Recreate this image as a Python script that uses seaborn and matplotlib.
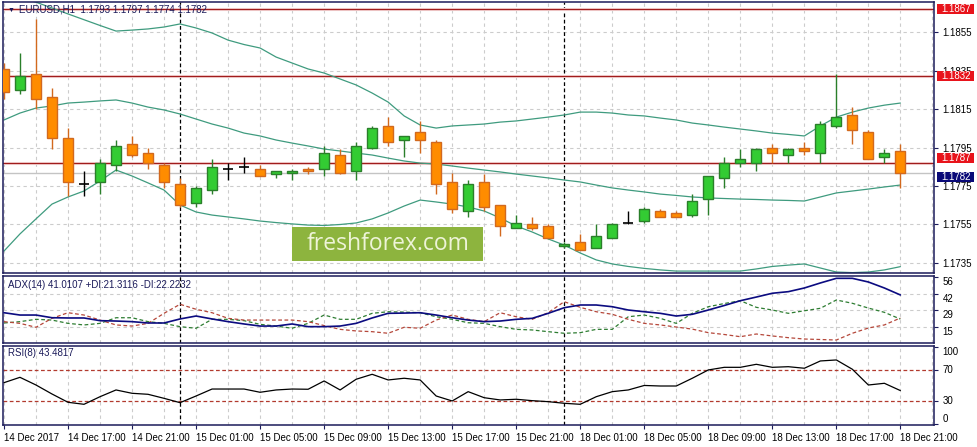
import numpy as np
import matplotlib
matplotlib.use("Agg")
import matplotlib.pyplot as plt
import matplotlib.transforms as mtransforms
from matplotlib.patches import Rectangle
import seaborn as sns

# ---------------- data ----------------
opens = [1.1836, 1.1825, 1.1833, 1.1821, 1.1800, 1.1776, 1.1777, 1.1786, 1.1797, 1.1792,
         1.1786, 1.1776, 1.1766, 1.1773, 1.1784, 1.1785, 1.1784, 1.1781, 1.1782, 1.1784,
         1.1784, 1.1791, 1.1783, 1.1795, 1.1806, 1.1799, 1.1803, 1.1798, 1.1777, 1.1762,
         1.1777, 1.1765, 1.1753, 1.1755, 1.1754, 1.1744, 1.1746, 1.1743, 1.1748, 1.1756,
         1.1757, 1.1762, 1.1761, 1.1760, 1.1768, 1.1779, 1.1787, 1.1787, 1.1795, 1.1791,
         1.1795, 1.1792, 1.1806, 1.1812, 1.1803, 1.1790, 1.1793]
highs = [1.1839, 1.1844, 1.1862, 1.1826, 1.1805, 1.1783, 1.1789, 1.1799, 1.1801, 1.1795,
         1.1787, 1.1779, 1.1775, 1.1789, 1.1787, 1.1790, 1.1786, 1.1783, 1.1784, 1.1785,
         1.1796, 1.1794, 1.1798, 1.1806, 1.1811, 1.1801, 1.1809, 1.1799, 1.1782, 1.1778,
         1.1781, 1.1765, 1.1760, 1.1759, 1.1755, 1.1746, 1.1750, 1.1755, 1.1756, 1.1762,
         1.1764, 1.1763, 1.1762, 1.1771, 1.1780, 1.1790, 1.1794, 1.1795, 1.1797, 1.1795,
         1.1798, 1.1809, 1.1833, 1.1816, 1.1804, 1.1794, 1.1797]
lows = [1.1820, 1.1823, 1.1815, 1.1794, 1.1770, 1.1770, 1.1771, 1.1783, 1.1790, 1.1784,
        1.1774, 1.1764, 1.1764, 1.1771, 1.1778, 1.1782, 1.1780, 1.1779, 1.1778, 1.1781,
        1.1780, 1.1781, 1.1778, 1.1794, 1.1796, 1.1790, 1.1792, 1.1771, 1.1761, 1.1759,
        1.1762, 1.1749, 1.1753, 1.1752, 1.1748, 1.1743, 1.1742, 1.1743, 1.1748, 1.1755,
        1.1756, 1.1759, 1.1759, 1.1759, 1.1760, 1.1774, 1.1785, 1.1783, 1.1787, 1.1787,
        1.1791, 1.1787, 1.1805, 1.1797, 1.1789, 1.1787, 1.1774]
closes = [1.1824, 1.1832, 1.1820, 1.1800, 1.1777, 1.1776, 1.1787, 1.1796, 1.1791, 1.1787,
          1.1777, 1.1765, 1.1774, 1.1785, 1.1784, 1.1785, 1.1780, 1.1783, 1.1783, 1.1783,
          1.1792, 1.1782, 1.1796, 1.1805, 1.1798, 1.1801, 1.1799, 1.1776, 1.1763, 1.1776,
          1.1764, 1.1754, 1.1756, 1.1753, 1.1748, 1.1745, 1.1742, 1.1749, 1.1755, 1.1756,
          1.1763, 1.1759, 1.1759, 1.1767, 1.1780, 1.1787, 1.1789, 1.1794, 1.1792, 1.1794,
          1.1793, 1.1807, 1.1811, 1.1804, 1.1789, 1.1792, 1.1782]

bb_upper = [1.18760, 1.18730, 1.18705, 1.18675, 1.18644, 1.18614, 1.18584, 1.18555, 1.18560, 1.18566,
            1.18576, 1.18592, 1.18571, 1.18545, 1.18508, 1.18485, 1.18467, 1.18420, 1.18389, 1.18358,
            1.18337, 1.18306, 1.18275, 1.18233, 1.18186, 1.18114, 1.18067, 1.18051, 1.18062, 1.18067,
            1.18072, 1.18082, 1.18088, 1.18098, 1.18108, 1.18119, 1.18134, 1.18134, 1.18129, 1.18119,
            1.18114, 1.18103, 1.18093, 1.18077, 1.18067, 1.18056, 1.18046, 1.18036, 1.18025, 1.18018,
            1.18010, 1.18062, 1.18108, 1.18134, 1.18155, 1.18170, 1.18181]
bb_mid = [1.18093, 1.18129, 1.18155, 1.18166, 1.18181, 1.18186, 1.18192, 1.18197, 1.18181, 1.18160,
          1.18145, 1.18124, 1.18098, 1.18072, 1.18051, 1.18025, 1.18010, 1.17989, 1.17973, 1.17958,
          1.17942, 1.17932, 1.17921, 1.17911, 1.17895, 1.17880, 1.17869, 1.17864, 1.17854, 1.17843,
          1.17833, 1.17823, 1.17812, 1.17802, 1.17792, 1.17781, 1.17771, 1.17755, 1.17740, 1.17729,
          1.17719, 1.17708, 1.17701, 1.17693, 1.17688, 1.17685, 1.17682, 1.17680, 1.17677, 1.17675,
          1.17672, 1.17693, 1.17714, 1.17724, 1.17734, 1.17745, 1.17755]
bb_lower = [1.17412, 1.17501, 1.17579, 1.17656, 1.17693, 1.17724, 1.17776, 1.17833, 1.17802, 1.17766,
            1.17729, 1.17651, 1.17615, 1.17599, 1.17589, 1.17579, 1.17568, 1.17560, 1.17553, 1.17547,
            1.17545, 1.17550, 1.17558, 1.17579, 1.17610, 1.17646, 1.17677, 1.17667, 1.17656, 1.17641,
            1.17620, 1.17584, 1.17542, 1.17511, 1.17475, 1.17443, 1.17402, 1.17366, 1.17345, 1.17332,
            1.17322, 1.17314, 1.17308, 1.17308, 1.17308, 1.17308, 1.17308, 1.17319, 1.17332, 1.17339,
            1.17345, 1.17324, 1.17303, 1.17300, 1.17303, 1.17314, 1.17331]

adx = [26.5, 24.6, 24.6, 22.4, 22.2, 22.2, 20.0, 19.7, 19.2, 18.1,
       18.1, 21.4, 23.8, 21.4, 19.2, 17.3, 15.6, 15.6, 17.3, 15.1,
       15.1, 15.6, 17.8, 22.2, 26.0, 26.2, 26.5, 24.6, 22.4, 20.5,
       19.2, 19.7, 21.1, 21.9, 26.0, 30.6, 32.8, 32.8, 31.4, 28.7,
       27.3, 26.0, 23.8, 25.2, 28.7, 32.4, 36.3, 39.3, 42.4, 43.7,
       46.7, 50.8, 54.6, 54.6, 51.6, 46.7, 41.0]
plus_di = [18.1, 19.2, 21.1, 20.5, 17.8, 16.5, 17.8, 22.4, 22.4, 19.2,
           17.8, 15.1, 13.8, 21.1, 21.1, 20.0, 17.0, 15.6, 13.8, 17.8,
           24.6, 21.1, 21.1, 26.0, 27.3, 27.0, 26.5, 23.2, 21.1, 18.3,
           17.8, 15.1, 12.9, 12.4, 11.0, 9.7, 10.2, 12.9, 12.9, 23.2,
           24.6, 21.9, 17.8, 26.0, 31.4, 34.0, 36.3, 30.9, 28.7, 26.0,
           28.1, 30.1, 36.9, 34.2, 30.3, 26.8, 21.3]
minus_di = [19.2, 17.8, 14.6, 21.9, 26.5, 24.6, 20.5, 16.5, 15.6, 17.8,
            26.0, 33.4, 29.3, 26.5, 21.9, 20.5, 20.5, 20.5, 20.5, 19.2,
            16.0, 12.9, 11.6, 11.0, 9.7, 14.6, 13.8, 20.5, 24.6, 21.1,
            19.2, 26.5, 23.2, 21.1, 26.5, 35.5, 30.9, 27.3, 25.2, 21.1,
            17.8, 16.5, 14.8, 13.1, 10.2, 8.7, 6.9, 9.1, 7.5, 6.1,
            5.0, 4.6, 4.2, 9.7, 14.0, 16.5, 22.2]
rsi = [53.7, 60.6, 50.7, 39.1, 28.4, 25.8, 35.6, 44.3, 40.0, 38.7,
       33.5, 27.9, 36.5, 45.5, 45.5, 45.5, 41.3, 44.3, 45.5, 45.2,
       55.9, 44.3, 58.1, 64.5, 57.2, 59.4, 57.2, 36.5, 30.1, 42.1,
       34.3, 31.4, 32.3, 30.5, 29.2, 27.1, 25.8, 35.6, 42.1, 44.3,
       50.1, 49.4, 49.4, 59.4, 70.1, 73.5, 73.5, 77.4, 73.5, 74.3,
       72.3, 81.7, 83.0, 71.0, 50.7, 52.9, 43.5]

time_tick_idx = [0, 4, 8, 12, 16, 20, 24, 28, 32, 36, 40, 44, 48, 52, 56]
time_labels = ["14 Dec 2017", "14 Dec 17:00", "14 Dec 21:00", "15 Dec 01:00", "15 Dec 05:00",
               "15 Dec 09:00", "15 Dec 13:00", "15 Dec 17:00", "15 Dec 21:00", "18 Dec 01:00",
               "18 Dec 05:00", "18 Dec 09:00", "18 Dec 13:00", "18 Dec 17:00", "18 Dec 21:00"]
day_separators = [11, 35]
price_ticks = [1.1855, 1.1835, 1.1815, 1.1795, 1.1775, 1.1755, 1.1735]
level_lines = [1.1867, 1.1832, 1.1787]
bid_price = 1.1782
adx_ticks = [56, 42, 29, 15]
rsi_ticks = [100, 70, 30, 0]
rsi_levels = [70, 30]

header = "EURUSD,H1  1.1793 1.1797 1.1774 1.1782"
adx_label = "ADX(14) 41.0107 +DI:21.3116 -DI:22.2232"
rsi_label = "RSI(8) 43.4817"

# ---------------- style ----------------
sns.set_theme(style="white")
plt.rcParams['font.family'] = ['Liberation Sans', 'DejaVu Sans']
FS = 7
NAVY = '#1b1b5a'
GRID = '#cccccc'
BULL_F, BULL_E = '#33cc33', '#2a7f2a'
BEAR_F, BEAR_E = '#ff8c00', '#d2691e'
BAND = '#3f9b7f'

W, H = 977, 447
fig = plt.figure(figsize=(W / 100, H / 100), dpi=100)
fig.patch.set_facecolor('white')


def rect(x0, y0, x1, y1):
    return [x0 / W, 1 - y1 / H, (x1 - x0) / W, (y1 - y0) / H]


ax = fig.add_axes(rect(3, 2, 934, 273))
ax_adx = fig.add_axes(rect(3, 276, 934, 343))
ax_rsi = fig.add_axes(rect(3, 346, 934, 425))

n = len(opens)
idx = np.arange(n)
o = np.array(opens); c = np.array(closes); h = np.array(highs); l = np.array(lows)
XL = (-0.06, 58.1)

for a in (ax, ax_adx, ax_rsi):
    a.set_facecolor('white')
    a.set_xlim(*XL)
    for s in a.spines.values():
        s.set_color(NAVY)
        s.set_linewidth(1.1)
    for gx in range(0, n + 2, 2):
        a.axvline(gx, color=GRID, lw=0.8, ls=(0, (3, 3)), zorder=0.5)
    for sx in day_separators:
        a.axvline(sx, color='black', lw=0.9, ls=(0, (3, 2)), zorder=1)
    a.yaxis.tick_right()
    a.tick_params(axis='y', right=True, length=3, width=0.8, color=NAVY, pad=3,
                  labelsize=FS, labelcolor='black')
    a.tick_params(axis='x', bottom=False, labelbottom=False)

# ---------------- main panel ----------------
ax.set_ylim(1.17298, 1.18706)
ax.set_yticks(price_ticks)
ax.set_yticklabels([f"{v:.4f}" for v in price_ticks])
for v in price_ticks:
    ax.axhline(v, color=GRID, lw=0.8, ls=(0, (3, 3)), zorder=0.5)

for band in (bb_upper, bb_mid, bb_lower):
    sns.lineplot(x=idx, y=band, ax=ax, color=BAND, linewidth=0.9, zorder=2)

ax.axhline(bid_price, color='#c4c4c4', lw=1.0, zorder=1.5)
for v in level_lines:
    ax.axhline(v, color='#f8dada', lw=2.2, zorder=1.6)
    ax.axhline(v, color='#a01c1c', lw=0.9, zorder=1.7)

up = c > o
dn = c < o
eq = c == o
BW = 0.62
ax.vlines(idx[up], l[up], h[up], color=BULL_E, lw=1.0, zorder=3)
ax.vlines(idx[dn], l[dn], h[dn], color=BEAR_E, lw=1.0, zorder=3)
ax.vlines(idx[eq], l[eq], h[eq], color='black', lw=1.0, zorder=3)
ax.bar(idx[up], c[up] - o[up], bottom=o[up], width=BW, color=BULL_F,
       edgecolor=BULL_E, linewidth=1.0, zorder=4)
ax.bar(idx[dn], o[dn] - c[dn], bottom=c[dn], width=BW, color=BEAR_F,
       edgecolor=BEAR_E, linewidth=1.0, zorder=4)
ax.hlines(o[eq], idx[eq] - BW / 2, idx[eq] + BW / 2, color='black', lw=1.2, zorder=4)

# right-side price boxes
blend = mtransforms.blended_transform_factory(ax.transAxes, ax.transData)
px = 0.0001 / 1.925
box_x0 = (937 - 3) / 931
box_w = 37 / 931
for v, col, dy in [(level_lines[0], '#e8131b', 0), (level_lines[1], '#e8131b', 0),
                   (level_lines[2], '#e8131b', 0.6), (bid_price, '#0a0a78', -0.6)]:
    yc = v + dy * px * 8
    ax.add_patch(Rectangle((box_x0, yc - 5 * px), box_w, 10 * px, transform=blend,
                           facecolor=col, edgecolor='none', clip_on=False, zorder=20))
    ax.text((941 - 3) / 931, yc, f"{v:.4f}", transform=blend, color='white',
            fontsize=FS, va='center', ha='left', clip_on=False, zorder=21)

# ---------------- ADX panel ----------------
ax_adx.set_ylim(1.75, 56.5)
for v in adx_ticks[1:]:
    ax_adx.axhline(v, color=GRID, lw=0.8, ls=(0, (3, 3)), zorder=0.5)
sns.lineplot(x=idx, y=plus_di, ax=ax_adx, color='#2e7d32', linewidth=0.9,
             linestyle=(0, (3, 2)), zorder=2)
sns.lineplot(x=idx, y=minus_di, ax=ax_adx, color='#b5473a', linewidth=0.9,
             linestyle=(0, (3, 2)), zorder=2)
sns.lineplot(x=idx, y=adx, ax=ax_adx, color='#0b0b80', linewidth=1.2, zorder=3)
ax_adx.set_yticks(adx_ticks)
ax_adx.set_yticklabels([str(v) for v in adx_ticks])
for t in ax_adx.get_yticklabels():
    t.set_va('top')
ax_adx.text(5 / 931, 0.86, adx_label, transform=ax_adx.transAxes, fontsize=FS,
            color=NAVY, va='center', ha='left')

# ---------------- RSI panel ----------------
ax_rsi.set_ylim(-0.9, 101)
for v in rsi_levels:
    ax_rsi.axhline(v, color='#b23a2e', lw=0.9, ls=(0, (3, 2)), zorder=1)
sns.lineplot(x=idx, y=rsi, ax=ax_rsi, color='black', linewidth=0.9, zorder=3)
ax_rsi.set_yticks(rsi_ticks)
ax_rsi.set_yticklabels([str(v) for v in rsi_ticks])
vas = {100: 'top', 70: 'center', 30: 'center', 0: 'bottom'}
for t, v in zip(ax_rsi.get_yticklabels(), rsi_ticks):
    t.set_va(vas[v])
ax_rsi.text(5 / 931, 0.91, rsi_label, transform=ax_rsi.transAxes, fontsize=FS,
            color=NAVY, va='center', ha='left')

ax_rsi.set_xticks(time_tick_idx)
ax_rsi.set_xticklabels(time_labels)
ax_rsi.tick_params(axis='x', bottom=True, labelbottom=True, length=3, width=0.8,
                   color=NAVY, pad=3, labelsize=FS, labelcolor='black', direction='out')
for t in ax_rsi.get_xticklabels():
    t.set_ha('left')

for a in (ax, ax_adx, ax_rsi):
    a.set_xlabel('')
    a.set_ylabel('')

# ---------------- header + watermark ----------------
fig.text(8 / W, 1 - 10 / H, "\u25bc", fontsize=5, color=NAVY, va='center', ha='left')
fig.text(19 / W, 1 - 10 / H, header, fontsize=FS, color=NAVY, va='center', ha='left')

fig.add_artist(Rectangle((292 / W, 1 - 261 / H), 191 / W, 34 / H, transform=fig.transFigure,
                         facecolor='#8db43e', edgecolor='none', zorder=5))
fig.text(388 / W, 1 - 244 / H, "freshforex.com", fontsize=16.5, color='#eef4d8',
         family=['Open Sans', 'DejaVu Sans'], va='center', ha='center', zorder=6)

fig.savefig("out.png", dpi=100, facecolor='white')
